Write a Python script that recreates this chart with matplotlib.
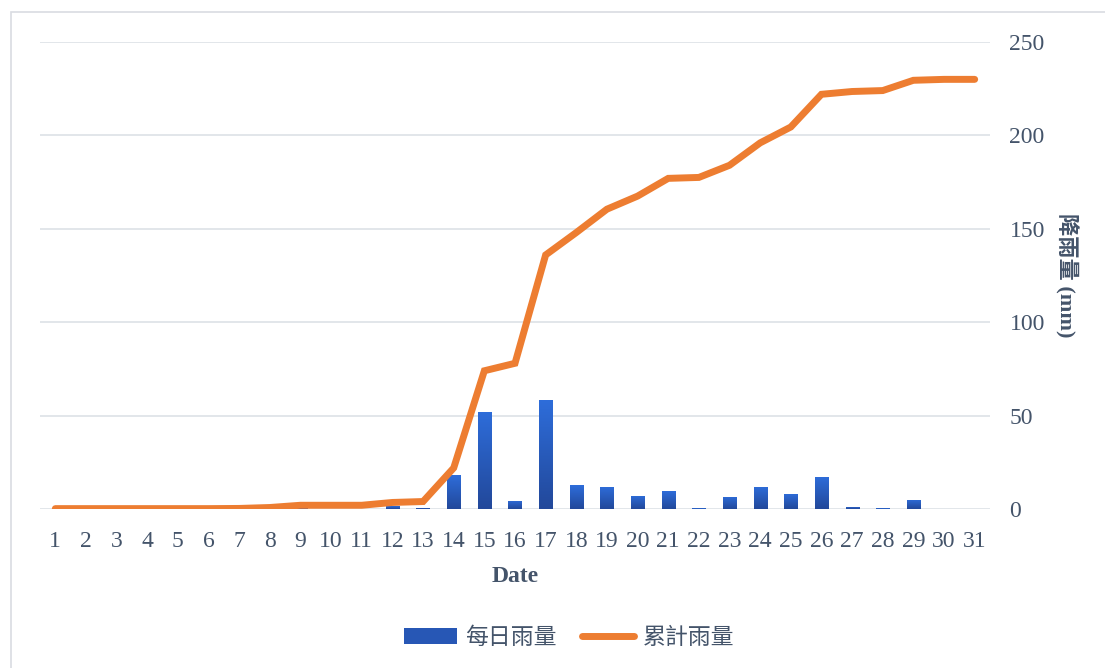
import numpy as np
import matplotlib
matplotlib.use("Agg")
import matplotlib.pyplot as plt
from matplotlib.lines import Line2D
from matplotlib.patches import Patch, Rectangle

plt.rcParams['font.family'] = ['Liberation Serif', 'Noto Sans CJK TC', 'DejaVu Sans']

# data
days = list(range(1, 32))
daily = [0, 0, 0, 0, 0, 0, 0.3, 0.6, 1.0, 0.2, 0.2, 1.5, 0.6, 18.2, 52.0,
         4.3, 58.3, 12.8, 11.8, 7.0, 9.6, 0.5, 6.6, 12.0, 8.2, 17.3, 1.3,
         0.4, 5.0, 0, 0]
cumulative = [0.2, 0.2, 0.2, 0.2, 0.2, 0.2, 0.3, 0.8, 2.0, 2.0, 2.0, 3.5,
              4.0, 22.0, 74.0, 78.0, 136.0, 148.0, 160.5, 167.5, 177.0,
              177.5, 184.0, 196.0, 204.5, 222.0, 223.5, 224.0, 229.5,
              230.0, 230.0]
yticks = [0, 50, 100, 150, 200, 250]

text_col = '#44546A'
grid_col = '#DDE1E6'
line_col = '#ED7D31'

fig = plt.figure(figsize=(11.05, 6.68), dpi=100)
fig.patches.append(Rectangle((11 / 1105, -0.01), 1.1, 1 - 12 / 668 + 0.01,
                             transform=fig.transFigure, fill=False,
                             edgecolor='#D9DCE2', linewidth=1.2, zorder=0))
ax = fig.add_axes([40 / 1105, 1 - 509 / 668, 950 / 1105, 467 / 668])

bars = ax.bar(days, daily, width=0.43, color='#2A62C6', zorder=2)

# vertical gradient for the bars
grad = np.linspace(0, 1, 256).reshape(-1, 1)
cmap = matplotlib.colors.LinearSegmentedColormap.from_list('g', ['#22489A', '#2E6DDA'])
for b in bars:
    h = b.get_height()
    if h <= 0:
        continue
    x0 = b.get_x()
    im = ax.imshow(grad, extent=[x0, x0 + b.get_width(), 0, h], origin='lower',
                   cmap=cmap, aspect='auto', zorder=2.1)
    im.set_clip_path(b)

ax.plot(days, cumulative, color=line_col, linewidth=5, solid_capstyle='round',
        solid_joinstyle='miter', zorder=3)

ax.set_xlim(0.5, 31.5)
ax.set_ylim(0, 250)
ax.set_yticks(yticks)
ax.set_xticks(days)
ax.yaxis.tick_right()
ax.yaxis.set_label_position('right')
ax.tick_params(axis='y', length=0, pad=14, labelsize=17, labelcolor=text_col)
ax.tick_params(axis='x', length=0, pad=16, labelsize=17, labelcolor=text_col)
ax.grid(axis='y', color=grid_col, linewidth=1.2, zorder=0)
ax.set_axisbelow(True)
for s in ax.spines.values():
    s.set_visible(False)

ax.set_xlabel('Date', fontsize=17, fontweight='bold', color=text_col, labelpad=10)
ax.set_ylabel('降雨量 (mm)', fontsize=16, fontweight='bold', color=text_col,
              rotation=270)
ax.yaxis.set_label_coords((1078 - 40) / 950, 0.5)

handles = [Patch(facecolor='#2757B5', edgecolor='none'),
           Line2D([0], [0], color=line_col, linewidth=5, solid_capstyle='round')]
fig.legend(handles, ['每日雨量', '累計雨量'], loc='center', bbox_to_anchor=(0.515, 1 - 638 / 668),
           ncol=2, frameon=False, fontsize=16.5, labelcolor=text_col,
           handlelength=2.3, handleheight=0.7, columnspacing=1.1, handletextpad=0.35)

fig.savefig('out.png', dpi=100)
